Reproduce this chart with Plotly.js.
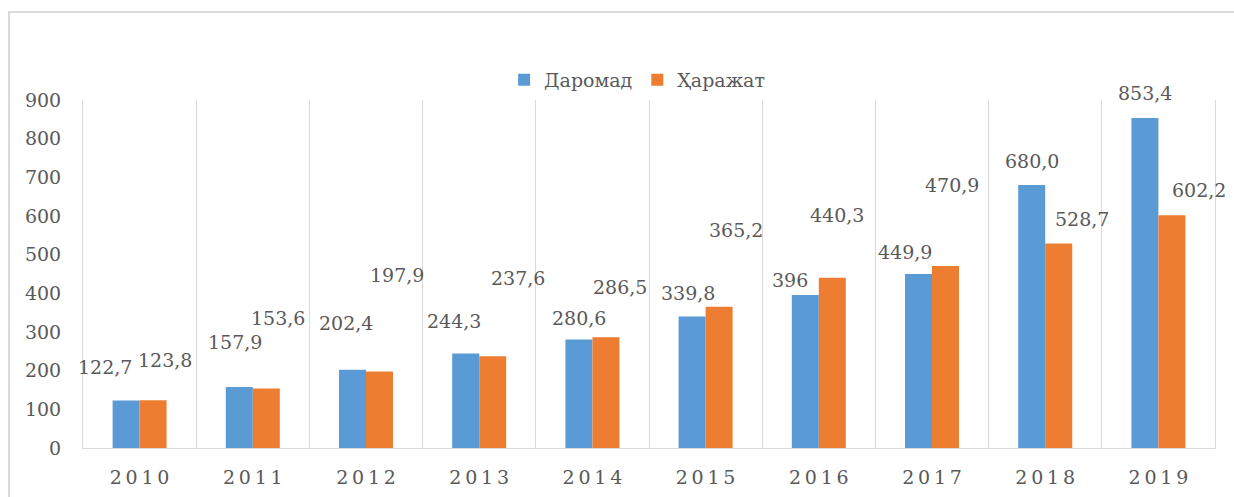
<!DOCTYPE html>
<html>
<head>
<meta charset="utf-8">
<script src="https://cdn.plot.ly/plotly-3.0.1.min.js"></script>
<style>
  html, body { margin: 0; padding: 0; background: #fff; }
  #wrap { position: relative; width: 1234px; height: 497px; overflow: hidden; }
  #frame { position: absolute; left: 8px; top: 11px; width: 1240px; height: 500px;
           border-left: 2px solid #d9d9d9; border-top: 2px solid #d9d9d9; pointer-events: none; }
  #chart { position: absolute; left: 0; top: 0; width: 1234px; height: 497px; }
</style>
</head>
<body>
<div id="wrap">
  <div id="chart"></div>
  <div id="frame"></div>
</div>
<script>
// ---- data ----
const years = ['2010', '2011', '2012', '2013', '2014', '2015', '2016', '2017', '2018', '2019'];
const income = [122.7, 157.9, 202.4, 244.3, 280.6, 339.8, 396, 449.9, 680.0, 853.4];
const expense = [123.8, 153.6, 197.9, 237.6, 286.5, 365.2, 440.3, 470.9, 528.7, 602.2];
const incomeLabels = ['122,7', '157,9', '202,4', '244,3', '280,6', '339,8', '396', '449,9', '680,0', '853,4'];
const expenseLabels = ['123,8', '153,6', '197,9', '237,6', '286,5', '365,2', '440,3', '470,9', '528,7', '602,2'];
const seriesNames = ['Даромад', 'Ҳаражат'];
const yTicks = [0, 100, 200, 300, 400, 500, 600, 700, 800, 900];

// ---- label placement (manually moved labels in the original), pixels ----
const incomeLabelDx = [-35, -18, -20, -25, -13, -18, -29, -27, -13, -13];
const incomeLabelDy = [34, 45, 47, 33, 22, 24, 15, 22, 24, 25];
const expenseLabelDx = [25, 25, 31, 39, 28, 30, 18, 20, 37, 41];
const expenseLabelDy = [40, 71, 96, 78, 50, 77, 63, 81, 25, 25];

const FONT = 'DejaVu Serif';
const GREY = '#595959';
const FS = 19;
// category names shown with spaced digits, as in the original
const cats = years.map(y => y.split('').join('\u2009'));

const traces = [
  { type: 'bar', name: seriesNames[0], x: cats, y: income,
    marker: { color: '#5B9BD5' } },
  { type: 'bar', name: seriesNames[1], x: cats, y: expense,
    marker: { color: '#ED7D31' } }
];

const annotations = [];
cats.forEach((c, i) => {
  annotations.push({ x: c, y: income[i], xref: 'x', yref: 'y', text: incomeLabels[i], showarrow: false,
    xshift: incomeLabelDx[i], yshift: incomeLabelDy[i], yanchor: 'middle', xanchor: 'center',
    font: { family: FONT, size: FS, color: GREY } });
  annotations.push({ x: c, y: expense[i], xref: 'x', yref: 'y', text: expenseLabels[i], showarrow: false,
    xshift: expenseLabelDx[i], yshift: expenseLabelDy[i], yanchor: 'middle', xanchor: 'center',
    font: { family: FONT, size: FS, color: GREY } });
});

const layout = {
  width: 1234, height: 497,
  margin: { l: 83, r: 19, t: 100, b: 49, pad: 0 },
  paper_bgcolor: 'rgba(0,0,0,0)', plot_bgcolor: '#fff',
  barmode: 'group', bargap: 0.523, bargroupgap: 0,
  font: { family: FONT, size: FS, color: GREY },
  showlegend: true,
  legend: { orientation: 'h', x: 0.372, xanchor: 'left', y: 1.058, yanchor: 'middle',
            font: { family: FONT, size: FS, color: GREY }, bgcolor: 'rgba(0,0,0,0)',
            traceorder: 'normal' },
  xaxis: { type: 'category', range: [-0.5, 9.5], tickson: 'boundaries', showgrid: true,
           gridcolor: '#d9d9d9', gridwidth: 1,
           showline: true, linecolor: '#d9d9d9', linewidth: 1,
           ticks: '', ticklabelstandoff: 12, tickangle: 0,
           tickfont: { family: FONT, size: FS, color: GREY }, zeroline: false },
  yaxis: { range: [0, 900], tickmode: 'array', tickvals: yTicks, showgrid: false,
           showline: true, mirror: true, linecolor: '#d9d9d9', linewidth: 1, zeroline: false,
           ticks: 'outside', ticklen: 17, tickcolor: 'rgba(0,0,0,0)',
           tickfont: { family: FONT, size: FS, color: GREY } },
  annotations: annotations
};

Plotly.newPlot('chart', traces, layout, { displayModeBar: false, staticPlot: true });
</script>
</body>
</html>
